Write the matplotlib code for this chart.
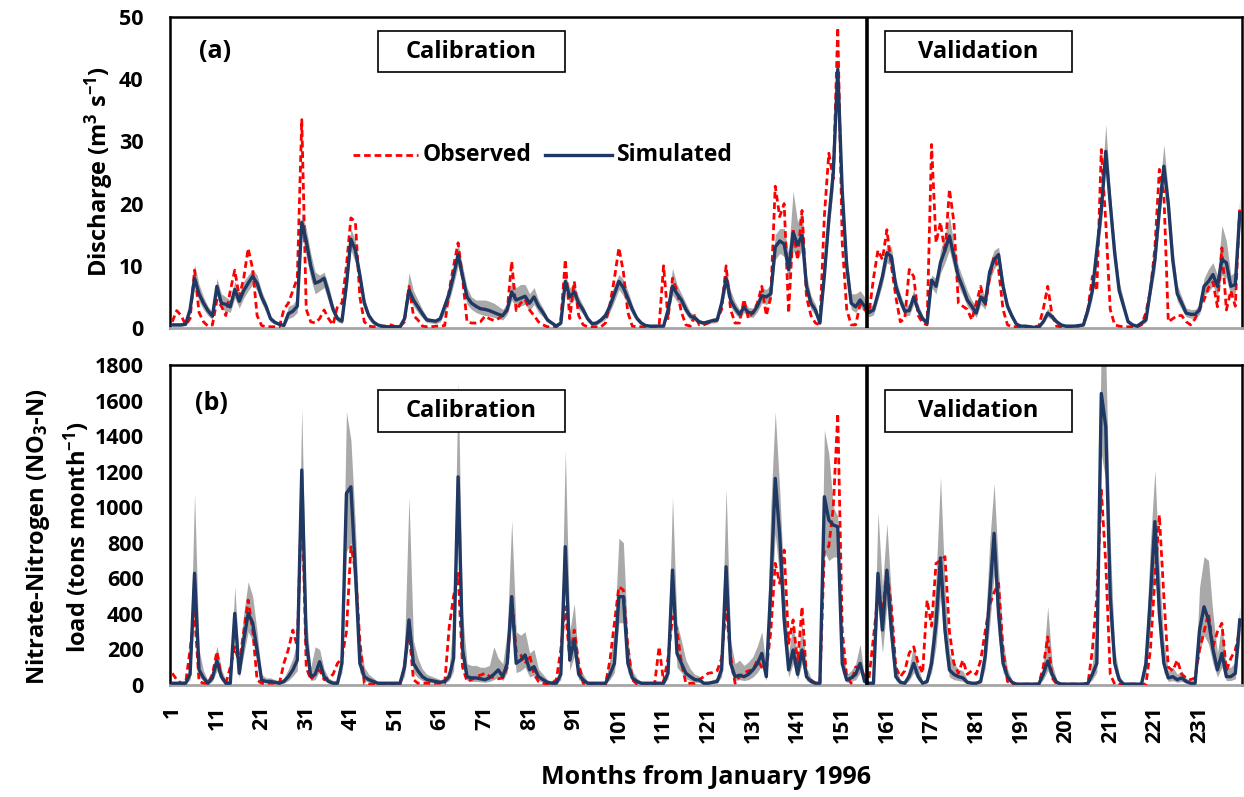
import matplotlib
matplotlib.use("Agg")
import matplotlib.pyplot as plt
from matplotlib.lines import Line2D
from matplotlib.patches import Rectangle

plt.rcParams['font.family'] = ['Open Sans', 'DejaVu Sans']
plt.rcParams['font.weight'] = 'bold'
plt.rcParams['mathtext.fontset'] = 'custom'
plt.rcParams['mathtext.rm'] = 'Open Sans:bold'
plt.rcParams['mathtext.bf'] = 'Open Sans:bold'
plt.rcParams['mathtext.it'] = 'Open Sans:bold'

months = list(range(1, 241))
xtick_labels = list(range(1, 240, 10))

# ---------------- (a) Discharge, m3/s ----------------
q_sim = [0.5, 0.5, 0.5, 0.6, 3.0, 8.0, 5.5, 4.0, 2.8, 1.9,
         6.7, 4.0, 3.8, 3.4, 6.2, 4.3, 6.0, 7.2, 8.3, 7.2,
         5.0, 3.5, 1.5, 0.9, 0.6, 0.4, 2.3, 2.7, 3.5, 17.0,
         14.0, 10.0, 7.2, 7.5, 8.0, 5.6, 3.0, 1.5, 1.1, 7.0,
         14.3, 12.5, 8.5, 4.0, 2.0, 1.0, 0.5, 0.3, 0.2, 0.2,
         0.2, 0.2, 1.5, 6.1, 4.5, 3.4, 2.3, 1.3, 1.2, 1.1,
         1.5, 3.5, 5.5, 8.5, 11.8, 8.3, 5.0, 4.0, 3.5, 3.1,
         3.0, 2.8, 2.5, 2.2, 2.0, 3.0, 5.8, 4.5, 4.8, 5.1,
         4.0, 5.0, 3.5, 2.5, 1.3, 0.8, 0.3, 0.8, 7.5, 5.0,
         5.8, 4.0, 2.9, 1.5, 0.7, 0.8, 1.3, 2.0, 3.5, 5.5,
         7.5, 6.5, 4.8, 3.0, 1.6, 0.8, 0.4, 0.3, 0.3, 0.3,
         0.3, 2.9, 6.7, 5.5, 4.5, 3.0, 1.9, 1.6, 1.0, 0.8,
         1.0, 1.2, 1.3, 4.0, 8.0, 4.5, 3.2, 2.2, 3.3, 2.5,
         2.4, 3.5, 5.2, 5.0, 5.5, 13.0, 14.0, 13.5, 9.4, 15.3,
         13.4, 14.9, 6.7, 4.0, 2.9, 0.8, 8.5, 17.5, 25.0, 41.6,
         22.0, 10.0, 4.0, 3.4, 4.5, 3.5, 2.5, 2.9, 5.5, 8.3,
         12.1, 11.5, 6.7, 4.5, 2.7, 2.8, 5.0, 2.9, 1.5, 0.8,
         7.7, 6.7, 10.5, 12.5, 14.8, 11.5, 8.3, 6.5, 4.5, 3.5,
         2.4, 5.0, 4.0, 9.0, 11.0, 11.8, 6.7, 3.5, 1.9, 0.6,
         0.3, 0.3, 0.2, 0.1, 0.1, 1.0, 2.4, 1.8, 1.0, 0.5,
         0.3, 0.3, 0.3, 0.4, 0.5, 2.9, 6.0, 12.5, 19.0, 28.4,
         20.0, 12.0, 6.0, 3.5, 1.0, 0.5, 0.3, 0.8, 1.3, 6.1,
         11.0, 19.0, 26.0, 20.0, 10.9, 5.5, 4.0, 2.4, 2.2, 2.2,
         2.9, 6.7, 7.5, 8.6, 6.7, 11.0, 10.5, 6.7, 7.0, 18.5]

q_obs = [1.0, 2.8, 2.0, 0.5, 1.5, 9.3, 2.5, 1.0, 0.3, 0.5,
         4.5, 3.5, 2.0, 6.0, 9.3, 5.0, 8.0, 12.8, 9.5, 2.0,
         0.4, 0.2, 0.2, 0.2, 0.2, 3.0, 4.0, 6.0, 8.0, 33.5,
         3.0, 1.0, 0.8, 1.5, 2.9, 1.5, 0.5, 3.5, 4.0, 10.0,
         17.7, 17.1, 5.0, 1.0, 0.3, 0.2, 0.3, 0.3, 0.3, 0.5,
         0.2, 0.2, 1.0, 6.7, 2.0, 1.3, 0.3, 0.2, 0.2, 0.3,
         0.3, 0.4, 6.0, 10.0, 13.7, 8.0, 1.0, 0.8, 0.8, 1.0,
         1.9, 1.5, 1.2, 1.5, 2.0, 2.8, 10.7, 2.8, 4.0, 4.6,
         2.9, 2.0, 1.0, 0.5, 0.2, 0.2, 0.2, 1.2, 11.0, 1.5,
         7.5, 2.0, 0.5, 0.2, 0.2, 0.2, 0.2, 0.8, 3.8, 8.0,
         12.9, 9.0, 2.5, 0.3, 0.2, 0.2, 0.2, 0.2, 0.2, 0.3,
         10.0, 1.5, 8.0, 6.0, 2.5, 0.5, 0.3, 2.0, 0.5, 0.5,
         0.8, 1.0, 1.3, 3.0, 10.0, 3.0, 0.8, 0.8, 4.6, 1.5,
         2.5, 4.0, 6.7, 2.0, 5.0, 22.8, 17.9, 20.0, 2.4, 16.0,
         11.0, 18.9, 5.0, 2.0, 0.8, 0.5, 18.0, 28.1, 24.0, 48.3,
         13.7, 3.0, 0.5, 0.5, 3.8, 3.0, 2.4, 8.0, 12.5, 11.0,
         15.8, 10.0, 5.0, 1.0, 1.5, 9.4, 8.3, 2.0, 0.8, 0.5,
         29.5, 13.7, 17.0, 12.0, 22.3, 17.0, 4.0, 3.5, 3.0, 1.3,
         4.0, 6.7, 3.5, 8.0, 11.5, 9.4, 3.0, 0.5, 0.2, 0.2,
         0.2, 0.2, 0.2, 0.2, 0.3, 3.0, 6.7, 2.0, 0.3, 0.2,
         0.2, 0.2, 0.2, 0.3, 0.5, 3.0, 8.3, 6.0, 28.7, 17.0,
         3.0, 0.5, 0.3, 0.2, 0.2, 0.2, 0.2, 0.5, 2.5, 6.0,
         12.9, 25.5, 21.8, 1.0, 1.5, 2.0, 2.0, 1.0, 0.5, 1.5,
         3.0, 4.5, 6.5, 7.4, 3.4, 12.9, 2.9, 6.0, 3.5, 19.6]

q_hi = [0.8, 0.8, 0.8, 1.0, 4.0, 10.2, 7.0, 5.0, 3.5, 2.5,
        8.0, 5.5, 5.0, 4.5, 7.5, 5.5, 7.5, 8.5, 9.5, 8.5,
        6.0, 4.2, 2.0, 1.2, 0.8, 0.8, 3.5, 3.8, 4.8, 18.5,
        16.0, 12.0, 9.0, 8.5, 9.0, 6.8, 3.8, 2.0, 1.5, 8.5,
        16.0, 14.0, 9.5, 5.0, 2.5, 1.3, 0.7, 0.4, 0.3, 0.3,
        0.3, 0.3, 2.0, 8.9, 6.0, 4.5, 3.0, 1.8, 1.5, 1.4,
        2.0, 4.5, 7.0, 10.0, 13.4, 10.0, 6.5, 5.0, 4.5, 4.5,
        4.5, 4.3, 4.0, 3.5, 3.0, 4.0, 7.5, 6.5, 7.0, 7.0,
        5.5, 6.5, 4.5, 3.2, 1.8, 1.0, 0.5, 1.2, 8.5, 6.5,
        7.0, 5.0, 3.6, 2.0, 1.0, 1.1, 1.8, 2.8, 4.8, 7.0,
        8.6, 7.8, 6.0, 3.8, 2.0, 1.0, 0.6, 0.4, 0.4, 0.4,
        0.4, 4.0, 9.6, 7.0, 5.5, 4.0, 2.5, 2.2, 1.3, 1.1,
        1.3, 1.6, 1.8, 5.0, 9.5, 6.0, 4.2, 3.0, 4.2, 3.3,
        3.2, 4.5, 6.5, 6.2, 7.0, 15.0, 16.0, 16.0, 12.0, 22.0,
        17.0, 19.0, 8.5, 5.2, 3.8, 1.2, 10.0, 19.5, 27.0, 42.5,
        24.0, 12.0, 5.5, 5.5, 6.0, 5.0, 3.5, 3.8, 6.5, 9.5,
        13.5, 13.0, 8.0, 5.5, 3.5, 3.8, 6.2, 3.8, 2.0, 1.2,
        8.5, 8.0, 12.5, 15.0, 18.0, 13.5, 10.0, 8.0, 6.0, 4.5,
        3.5, 6.5, 5.0, 10.5, 12.5, 13.0, 8.0, 4.2, 2.5, 1.0,
        0.5, 0.5, 0.4, 0.3, 0.3, 1.5, 3.2, 2.3, 1.4, 0.8,
        0.5, 0.5, 0.5, 0.6, 0.8, 3.8, 7.5, 14.0, 22.0, 32.7,
        22.0, 14.0, 7.5, 4.5, 1.5, 0.8, 0.5, 1.2, 2.0, 7.5,
        13.0, 21.5, 29.5, 22.0, 13.0, 7.0, 5.0, 3.2, 3.0, 3.0,
        3.8, 8.0, 9.5, 10.5, 8.5, 16.5, 14.0, 8.5, 9.0, 21.0]

q_lo = [0.3, 0.3, 0.3, 0.4, 2.2, 6.5, 4.3, 3.0, 2.0, 1.4,
        5.2, 3.0, 2.8, 2.5, 4.8, 3.2, 4.8, 6.0, 7.0, 6.0,
        4.0, 2.6, 1.0, 0.6, 0.4, 0.2, 1.5, 1.8, 2.5, 15.0,
        11.5, 8.0, 5.5, 6.0, 6.5, 4.2, 2.2, 1.0, 0.7, 5.5,
        12.5, 10.5, 7.0, 3.0, 1.4, 0.6, 0.3, 0.2, 0.1, 0.1,
        0.1, 0.1, 1.0, 4.8, 3.5, 2.5, 1.6, 0.9, 0.8, 0.7,
        1.0, 2.5, 4.3, 7.0, 10.0, 6.8, 3.8, 3.0, 2.5, 2.2,
        2.0, 1.9, 1.7, 1.5, 1.3, 2.2, 4.5, 3.2, 3.5, 3.8,
        2.8, 3.8, 2.5, 1.8, 0.9, 0.5, 0.2, 0.5, 6.3, 3.8,
        4.6, 3.0, 2.2, 1.0, 0.4, 0.5, 0.9, 1.4, 2.6, 4.3,
        6.2, 5.2, 3.6, 2.2, 1.1, 0.5, 0.2, 0.2, 0.2, 0.2,
        0.2, 2.0, 5.3, 4.3, 3.5, 2.2, 1.3, 1.1, 0.7, 0.5,
        0.7, 0.8, 0.9, 3.0, 6.5, 3.4, 2.3, 1.5, 2.5, 1.8,
        1.7, 2.6, 4.0, 3.8, 4.2, 11.0, 12.0, 11.5, 7.5, 12.5,
        11.0, 12.5, 5.2, 3.0, 2.0, 0.5, 7.0, 15.5, 22.5, 39.5,
        19.5, 8.5, 3.0, 2.5, 3.5, 2.5, 1.8, 2.1, 4.5, 7.0,
        10.5, 10.0, 5.5, 3.5, 2.0, 2.0, 3.8, 2.1, 1.0, 0.5,
        6.5, 5.5, 8.8, 10.5, 12.5, 9.5, 6.8, 5.2, 3.5, 2.6,
        1.7, 3.8, 3.0, 7.5, 9.5, 10.5, 5.5, 2.8, 1.4, 0.4,
        0.2, 0.2, 0.1, 0.1, 0.1, 0.7, 1.8, 1.3, 0.7, 0.3,
        0.2, 0.2, 0.2, 0.3, 0.3, 2.0, 4.8, 10.5, 16.5, 25.5,
        17.0, 10.0, 4.8, 2.6, 0.7, 0.3, 0.2, 0.5, 0.9, 5.0,
        9.0, 17.0, 23.5, 17.0, 9.0, 4.3, 3.0, 1.8, 1.6, 1.6,
        2.2, 5.3, 5.8, 6.8, 5.2, 8.5, 8.0, 5.2, 5.5, 16.0]

# ---------------- (b) NO3-N load, tons/month ----------------
n_sim = [10, 10, 10, 10, 60, 628, 85, 40, 10, 40,
         135, 47, 10, 10, 403, 66, 250, 403, 350, 197,
         28, 20, 20, 15, 10, 20, 47, 85, 140, 1209,
         250, 47, 60, 131, 47, 20, 10, 10, 122, 1078,
         1115, 646, 122, 47, 30, 20, 10, 10, 10, 10,
         10, 10, 100, 366, 122, 80, 47, 30, 25, 20,
         15, 20, 47, 150, 1171, 200, 47, 40, 40, 35,
         30, 40, 60, 85, 47, 122, 497, 122, 140, 169,
         85, 103, 47, 30, 15, 10, 10, 60, 778, 140,
         253, 60, 28, 10, 10, 10, 10, 10, 60, 122,
         497, 497, 122, 40, 20, 10, 10, 10, 10, 10,
         10, 66, 646, 178, 122, 66, 47, 30, 28, 10,
         10, 15, 20, 85, 665, 122, 47, 55, 47, 60,
         85, 120, 178, 47, 550, 1162, 844, 366, 85, 197,
         60, 197, 47, 20, 10, 10, 1059, 928, 900, 890,
         120, 28, 40, 60, 122, 20, 10, 10, 628, 309,
         646, 309, 47, 15, 10, 50, 122, 47, 10, 20,
         122, 347, 715, 309, 85, 60, 47, 40, 15, 10,
         10, 20, 160, 497, 853, 400, 122, 47, 15, 5,
         5, 5, 5, 5, 5, 60, 135, 60, 15, 5,
         5, 5, 5, 5, 5, 10, 60, 122, 1640, 1453,
         497, 122, 30, 5, 5, 5, 5, 5, 122, 497,
         919, 403, 122, 40, 47, 30, 40, 20, 10, 10,
         309, 440, 366, 200, 85, 178, 47, 47, 66, 366]

n_obs = [66, 30, 10, 10, 200, 403, 20, 10, 10, 60,
         188, 47, 10, 100, 215, 122, 300, 478, 309, 28,
         10, 10, 10, 10, 10, 122, 200, 309, 215, 1100,
         100, 30, 60, 85, 30, 40, 60, 122, 150, 300,
         778, 650, 250, 10, 5, 5, 5, 5, 5, 5,
         5, 5, 100, 309, 30, 10, 10, 10, 10, 10,
         10, 10, 324, 500, 628, 100, 20, 30, 47, 55,
         66, 50, 40, 35, 40, 100, 497, 190, 170, 120,
         169, 60, 20, 10, 5, 10, 30, 200, 440, 140,
         309, 122, 10, 5, 5, 5, 5, 5, 140, 350,
         553, 534, 215, 30, 5, 5, 5, 5, 5, 215,
         20, 150, 384, 309, 122, 10, 10, 10, 30, 47,
         66, 70, 80, 150, 440, 163, 10, 47, 66, 80,
         85, 140, 100, 85, 300, 684, 572, 759, 234, 366,
         122, 440, 47, 28, 10, 10, 759, 780, 1000, 1528,
         309, 47, 10, 100, 103, 47, 40, 271, 500, 400,
         646, 440, 100, 47, 80, 180, 215, 122, 66, 478,
         331, 684, 700, 722, 300, 122, 66, 140, 60, 80,
         60, 140, 300, 450, 520, 572, 197, 20, 5, 5,
         5, 5, 5, 5, 5, 100, 271, 40, 5, 5,
         5, 5, 5, 5, 5, 5, 197, 500, 1097, 684,
         60, 5, 5, 5, 5, 5, 5, 5, 5, 200,
         600, 956, 497, 100, 80, 140, 60, 40, 30, 40,
         200, 300, 403, 215, 300, 347, 80, 150, 197, 309]

n_hi = [20, 20, 20, 20, 120, 1078, 200, 80, 25, 80,
        220, 90, 25, 25, 553, 150, 400, 580, 500, 300,
        60, 40, 40, 30, 25, 40, 90, 150, 250, 1556,
        400, 100, 215, 200, 90, 40, 25, 25, 250, 1537,
        1378, 900, 250, 100, 60, 40, 20, 20, 20, 20,
        20, 20, 200, 1059, 250, 150, 90, 60, 50, 40,
        30, 40, 90, 400, 1715, 400, 120, 110, 110, 100,
        100, 110, 215, 150, 120, 300, 927, 300, 280, 300,
        180, 200, 90, 60, 30, 20, 20, 150, 1322, 300,
        459, 120, 60, 20, 20, 20, 20, 20, 150, 300,
        825, 800, 250, 80, 40, 20, 20, 20, 20, 20,
        20, 150, 1059, 350, 250, 140, 90, 60, 50, 20,
        20, 30, 40, 200, 1106, 250, 120, 140, 110, 130,
        160, 220, 300, 100, 1000, 1537, 1100, 550, 180, 350,
        150, 350, 100, 40, 20, 20, 1434, 1300, 1000, 950,
        250, 60, 80, 120, 230, 40, 20, 20, 974, 550,
        909, 500, 100, 30, 20, 100, 230, 100, 20, 40,
        250, 600, 1171, 550, 180, 120, 90, 80, 30, 20,
        20, 40, 300, 800, 1134, 650, 250, 90, 30, 10,
        10, 10, 10, 10, 10, 120, 440, 120, 30, 10,
        10, 10, 10, 10, 10, 20, 120, 400, 1950, 1850,
        800, 200, 60, 10, 10, 10, 10, 10, 250, 800,
        1209, 650, 250, 80, 100, 60, 80, 40, 20, 20,
        550, 722, 700, 400, 180, 350, 100, 100, 130, 440]

n_lo = [5, 5, 5, 5, 30, 400, 50, 20, 5, 20,
        80, 25, 5, 5, 280, 40, 170, 300, 250, 130,
        15, 10, 10, 8, 5, 10, 25, 50, 80, 900,
        150, 25, 30, 80, 25, 10, 5, 5, 70, 750,
        800, 450, 70, 25, 15, 10, 5, 5, 5, 5,
        5, 5, 50, 250, 70, 40, 25, 15, 12, 10,
        8, 10, 25, 80, 850, 100, 25, 20, 20, 18,
        15, 20, 30, 45, 25, 70, 350, 70, 80, 100,
        45, 55, 25, 15, 8, 5, 5, 30, 550, 80,
        160, 30, 15, 5, 5, 5, 5, 5, 30, 70,
        350, 350, 70, 20, 10, 5, 5, 5, 5, 5,
        5, 35, 450, 100, 70, 35, 25, 15, 14, 5,
        5, 8, 10, 45, 480, 70, 25, 30, 25, 30,
        45, 70, 110, 25, 380, 850, 600, 230, 45, 120,
        30, 120, 25, 10, 5, 5, 750, 700, 720, 720,
        70, 15, 20, 30, 70, 10, 5, 5, 440, 180,
        450, 180, 25, 8, 5, 25, 70, 25, 5, 10,
        70, 220, 500, 180, 45, 30, 25, 20, 8, 5,
        5, 10, 90, 330, 620, 250, 70, 25, 8, 3,
        3, 3, 3, 3, 3, 30, 80, 30, 8, 3,
        3, 3, 3, 3, 3, 5, 30, 70, 1300, 1150,
        300, 70, 15, 3, 3, 3, 3, 3, 70, 330,
        650, 250, 70, 20, 25, 15, 20, 10, 5, 5,
        180, 280, 230, 120, 45, 100, 25, 25, 35, 250]

RED = '#FF0000'
NAVY = '#1F3864'
GRAY = '#A9A9A9'
W, H = 1244, 797

fig = plt.figure(figsize=(W / 100, H / 100), dpi=100)

def px_axes(l, t, r, b):
    return fig.add_axes([l / W, 1 - b / H, (r - l) / W, (b - t) / H])

axa = px_axes(170, 17, 1242, 328)
axb = px_axes(170, 365, 1242, 685)

def draw(ax, obs, sim, lo, hi, ymax, ystep):
    ax.fill_between(months, lo, hi, color=GRAY, lw=0, zorder=1)
    ax.plot(months, obs, color=RED, lw=2.0, ls=(0, (2.4, 1.4)), zorder=3)
    ax.plot(months, sim, color=NAVY, lw=2.4, zorder=4)
    ax.axvline(156.5, color='black', lw=2.6, zorder=5)
    ax.set_xlim(0.5, 240.5)
    ax.set_ylim(0, ymax)
    ax.set_yticks(range(0, ymax + 1, ystep))
    ax.tick_params(axis='both', length=0, labelsize=15.5)
    ax.tick_params(axis='y', pad=19)
    for lab in ax.get_yticklabels():
        lab.set_fontweight('bold')
    for s in ['top', 'left', 'right']:
        ax.spines[s].set_color('black')
        ax.spines[s].set_linewidth(1.8)
    ax.spines['bottom'].set_color('#A6A6A6')
    ax.spines['bottom'].set_linewidth(2.0)

draw(axa, q_obs, q_sim, q_lo, q_hi, 50, 10)
draw(axb, n_obs, n_sim, n_lo, n_hi, 1800, 200)

axa.set_xticks(xtick_labels)
axa.set_xticklabels([])
axb.set_xticks(xtick_labels)
axb.set_xticklabels([str(v) for v in xtick_labels], rotation=90, fontweight='bold')
axb.tick_params(axis='x', pad=15)

def box(ax, l, t, r, b, text, axh_top, axh_bot):
    x0 = (l - 170) / (1242 - 170)
    x1 = (r - 170) / (1242 - 170)
    y0 = (axh_bot - b) / (axh_bot - axh_top)
    y1 = (axh_bot - t) / (axh_bot - axh_top)
    ax.add_patch(Rectangle((x0, y0), x1 - x0, y1 - y0, transform=ax.transAxes,
                           fc='white', ec='black', lw=1.2, zorder=6))
    ax.text((x0 + x1) / 2, (y0 + y1) / 2, text, transform=ax.transAxes,
            ha='center', va='center', fontsize=17, fontweight='bold', zorder=7)

box(axa, 378, 31, 565, 72, 'Calibration', 17, 328)
box(axa, 885, 31, 1072, 72, 'Validation', 17, 328)
box(axb, 378, 390, 565, 432, 'Calibration', 365, 685)
box(axb, 885, 390, 1072, 432, 'Validation', 365, 685)

fig.text(215 / W, 1 - 51 / H, '(a)', ha='center', va='center', fontsize=18, fontweight='bold')
fig.text(211 / W, 1 - 403 / H, '(b)', ha='center', va='center', fontsize=18, fontweight='bold')

# legend (manual, as in the original)
ly = 1 - 155 / H
fig.add_artist(Line2D([353 / W, 418 / W], [ly, ly], color=RED, lw=2.0, ls=(0, (2.4, 1.4))))
fig.text(423 / W, ly, 'Observed', ha='left', va='center', fontsize=16.5, fontweight='bold')
fig.add_artist(Line2D([545 / W, 612 / W], [ly, ly], color=NAVY, lw=2.4))
fig.text(617 / W, ly, 'Simulated', ha='left', va='center', fontsize=16.5, fontweight='bold')

# axis labels
fig.text(99 / W, 1 - 172 / H, r'Discharge (m$^{\mathregular{3}}$ s$^{\mathregular{-1}}$)',
         rotation=90, ha='center', va='center', fontsize=17, fontweight='bold')
fig.text(38 / W, 1 - 537 / H, r'Nitrate-Nitrogen (NO$_{\mathregular{3}}$-N)',
         rotation=90, ha='center', va='center', fontsize=17, fontweight='bold')
fig.text(77 / W, 1 - 537 / H, r'load (tons month$^{\mathregular{-1}}$)',
         rotation=90, ha='center', va='center', fontsize=17, fontweight='bold')
fig.text(706 / W, 1 - 778 / H, 'Months from January 1996', ha='center', va='center',
         fontsize=18, fontweight='bold')

fig.savefig('out.png', dpi=100)
